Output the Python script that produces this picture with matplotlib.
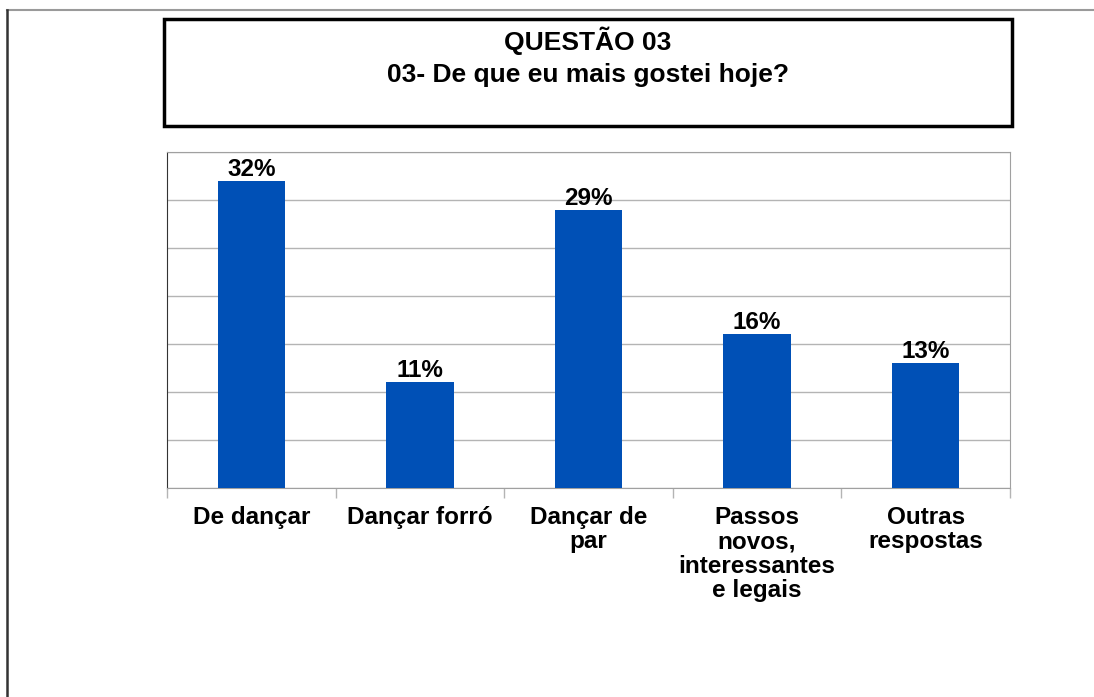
import matplotlib.pyplot as plt
from matplotlib.lines import Line2D
from matplotlib.patches import Rectangle

W, H = 1094, 697

categories = [
    "De dançar",
    "Dançar forró",
    "Dançar de\npar",
    "Passos\nnovos,\ninteressantes\ne legais",
    "Outras\nrespostas",
]
percentages = [32, 11, 29, 16, 13]
title_lines = ["QUESTÃO 03", "03- De que eu mais gostei hoje?"]

BAR_COLOR = "#0050b6"
GRID_COLOR = "#b4b4b4"

plt.rcParams["font.family"] = ["Liberation Sans", "DejaVu Sans"]
plt.rcParams["font.weight"] = "bold"


def fx(px):
    return px / W


def fy(py):
    return 1 - py / H


fig = plt.figure(figsize=(W / 100, H / 100), dpi=100)
fig.patch.set_facecolor("white")

# outer frame (top and left edges only)
fig.add_artist(Line2D([fx(7), 1.0], [fy(10), fy(10)], transform=fig.transFigure,
                      color="#9a9a9a", lw=1.5))
fig.add_artist(Line2D([fx(7), fx(7)], [0.0, fy(10)], transform=fig.transFigure,
                      color="#333333", lw=1.8))

# title box
fig.add_artist(Rectangle((fx(164), fy(126)), fx(1012) - fx(164), fy(19) - fy(126),
                         transform=fig.transFigure, fill=False, ec="black", lw=2.5))
fig.text(fx(588), fy(50), title_lines[0], ha="center", va="baseline",
         fontsize=19, fontweight="bold")
fig.text(fx(588), fy(82), title_lines[1], ha="center", va="baseline",
         fontsize=19, fontweight="bold")

# chart area
ax = fig.add_axes([fx(167), fy(488), fx(1010) - fx(167), fy(152) - fy(488)])
x = list(range(len(categories)))
ax.bar(x, percentages, width=0.4, color=BAR_COLOR, zorder=3)
for xi, v in zip(x, percentages):
    ax.annotate(f"{v}%", (xi, v), xytext=(0, 0), textcoords="offset points",
                ha="center", va="bottom", fontsize=17.5, fontweight="bold")

ax.set_xlim(-0.5, len(categories) - 0.5)
ax.set_ylim(0, 35)
ax.set_yticks(range(0, 36, 5))
ax.yaxis.grid(True, color=GRID_COLOR, lw=1, zorder=0)
ax.tick_params(axis="y", length=0, labelleft=False)

ax.set_xticks(x)
ax.set_xticklabels(categories, fontsize=17.5, fontweight="bold", linespacing=1.07,
                   va="top")
ax.set_xticks([i - 0.5 for i in range(len(categories) + 1)], minor=True)
ax.tick_params(axis="x", which="major", length=0, pad=13)
ax.tick_params(axis="x", which="minor", length=7, color=GRID_COLOR, width=1)

for side in ("top", "right", "bottom"):
    ax.spines[side].set_color("#a0a0a0")
ax.spines["left"].set_color("#333333")

fig.savefig("out.png", dpi=100)
